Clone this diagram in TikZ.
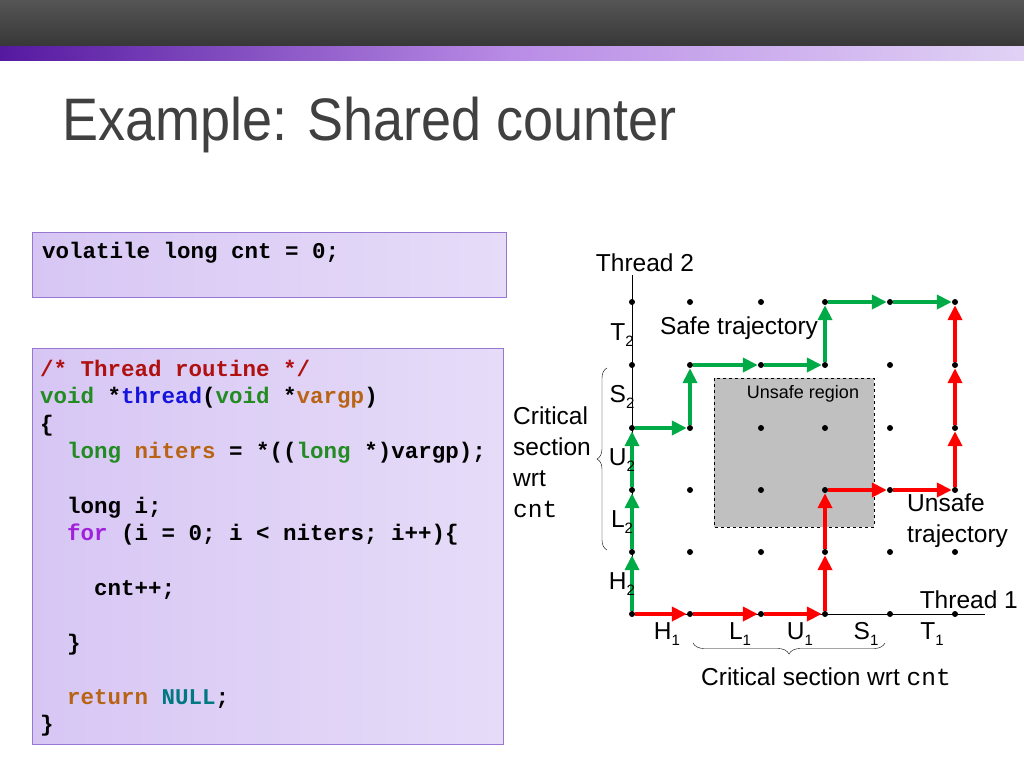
\documentclass[tikz,border=0pt]{standalone}
\usepackage{fontspec}
\setmainfont{Liberation Sans}
\newfontfamily\cmono{Liberation Mono}
\usetikzlibrary{arrows.meta,decorations.pathreplacing}
\definecolor{cmt}{RGB}{176,16,16}
\definecolor{kw}{RGB}{34,139,34}
\definecolor{fn}{RGB}{20,20,220}
\definecolor{var}{RGB}{184,100,20}
\definecolor{kwp}{RGB}{160,32,220}
\definecolor{teal2}{RGB}{0,120,130}
\definecolor{sgreen}{RGB}{0,170,70}
\definecolor{ured}{RGB}{255,0,0}
\begin{document}
\begin{tikzpicture}[x=1pt,y=-1pt,
  codebox/.style={draw={rgb,255:red,150;green,120;blue,210},left color={rgb,255:red,215;green,198;blue,244},right color={rgb,255:red,230;green,220;blue,248}},
  codeline/.style={anchor=base west,inner sep=0pt,font=\cmono\bfseries\fontsize{22.5}{27}\selectfont},
  lbl/.style={font=\fontsize{24.5}{28}\selectfont,inner sep=0pt},
  sub/.style={font=\fontsize{15}{15}\selectfont},
  dot/.style={circle,fill=black,inner sep=0pt,minimum size=6pt},
  safe/.style={draw=sgreen,line width=4pt,-{Triangle[length=15pt,width=14pt]}},
  unsafe/.style={draw=ured,line width=4pt,-{Triangle[length=15pt,width=14pt]}}]
\useasboundingbox (0,0) rectangle (1024,768);
\fill[white] (0,0) rectangle (1024,768);
\shade[top color={rgb,255:red,85;green,85;blue,85},bottom color={rgb,255:red,55;green,55;blue,55}] (0,0) rectangle (1024,47);
\shade[left color={rgb,255:red,85;green,25;blue,160},right color={rgb,255:red,225;green,210;blue,245},middle color={rgb,255:red,185;green,140;blue,230}] (0,47) rectangle (1024,60);
\node[anchor=base west,inner sep=0pt,xscale=0.9,text={rgb,255:red,64;green,64;blue,64},font=\fontsize{60}{62}\selectfont] (title) at (62,140) {Example: Shared counter};
% code boxes
\draw[codebox] (32,232) rectangle (506,297);
\node[codeline] (c0) at (42,258) {volatile long cnt = 0;};
\draw[codebox] (32,348) rectangle (503,744);
\node[codeline] (c1) at (40,376) {\textcolor{cmt}{/* Thread routine */}};
\node[codeline] (c2) at (40,403) {\textcolor{kw}{void} *\textcolor{fn}{thread}(\textcolor{kw}{void} *\textcolor{var}{vargp})};
\node[codeline] (c3) at (40,431) {\{};
\node[codeline] (c4) at (40,458) {\ \ \textcolor{kw}{long} \textcolor{var}{niters} = *((\textcolor{kw}{long} *)vargp);};
\node[codeline] (c5) at (40,513) {\ \ long i;};
\node[codeline] (c6) at (40,540) {\ \ \textcolor{kwp}{for} (i = 0; i < niters; i++)\{};
\node[codeline] (c7) at (40,595) {\ \ \ \ cnt++;};
\node[codeline] (c8) at (40,650) {\ \ \}};
\node[codeline] (c9) at (40,704) {\ \ \textcolor{var}{return} \textcolor{teal2}{NULL};};
\node[codeline] (c10) at (40,731) {\}};
% unsafe region
\draw[dashed,fill={rgb,255:red,192;green,192;blue,192}] (714,378) rectangle (874,527);
\node[font=\fontsize{18}{20}\selectfont,inner sep=0pt] (ur) at (803,394) {Unsafe region};
% axes
\coordinate (ytop) at (632,275);
\coordinate (xend) at (985,614);
\draw[line width=0.8pt] (ytop) -- (632,614) -- (xend);
% grid dots
\foreach \i/\x in {0/632,1/690,2/761,3/825,4/890,5/955}{
  \foreach \j/\y in {0/614,1/552,2/490,3/428,4/365,5/302}{
    \node[dot] (p\i\j) at (\x,\y) {};
  }}
% safe trajectory
\draw[safe] (p00) -- (p01);
\draw[safe] (p01) -- (p02);
\draw[safe] (p02) -- (p03);
\draw[safe] (p03) -- (p13);
\draw[safe] (p13) -- (p14);
\draw[safe] (p14) -- (p24);
\draw[safe] (p24) -- (p34);
\draw[safe] (p34) -- (p35);
\draw[safe] (p35) -- (p45);
\draw[safe] (p45) -- (p55);
% unsafe trajectory
\draw[unsafe] (p00) -- (p10);
\draw[unsafe] (p10) -- (p20);
\draw[unsafe] (p20) -- (p30);
\draw[unsafe] (p30) -- (p31);
\draw[unsafe] (p31) -- (p32);
\draw[unsafe] (p32) -- (p42);
\draw[unsafe] (p42) -- (p52);
\draw[unsafe] (p52) -- (p53);
\draw[unsafe] (p53) -- (p54);
\draw[unsafe] (p54) -- (p55);
% labels
\node[lbl] (t2) at (645,263) {Thread 2};
\node[lbl,anchor=east] (t1) at (1018,600) {Thread 1};
\node[lbl] (st) at (739,328) {Safe trajectory};
\node[lbl,anchor=west,align=left] (ut) at (907,521) {Unsafe\\[3pt]trajectory};
\foreach \n/\y/\l in {T/335/2,S/397/2,U/460/2,L/522/2,H/584/2}{
  \node[lbl] (y\n) at (622,\y) {\n\raisebox{-6pt}{\fontsize{15}{15}\selectfont\l}};}
\foreach \n/\x in {H/667,L/740,U/800,S/866,T/932}{
  \node[lbl] (x\n) at (\x,634) {\n\raisebox{-6pt}{\fontsize{15}{15}\selectfont 1}};}
\node[lbl,anchor=west,align=left] (cs2) at (513,462) {Critical\\[3pt]section\\[3pt]wrt\\[3pt]{\cmono cnt}};
\draw[decorate,decoration={brace,amplitude=10pt}] (607,550) -- (607,368);
\draw[decorate,decoration={brace,amplitude=11pt,mirror}] (693,643) -- (885,643);
\node[lbl] (cs1) at (826,677) {Critical section wrt {\cmono cnt}};
\end{tikzpicture}
\end{document}
